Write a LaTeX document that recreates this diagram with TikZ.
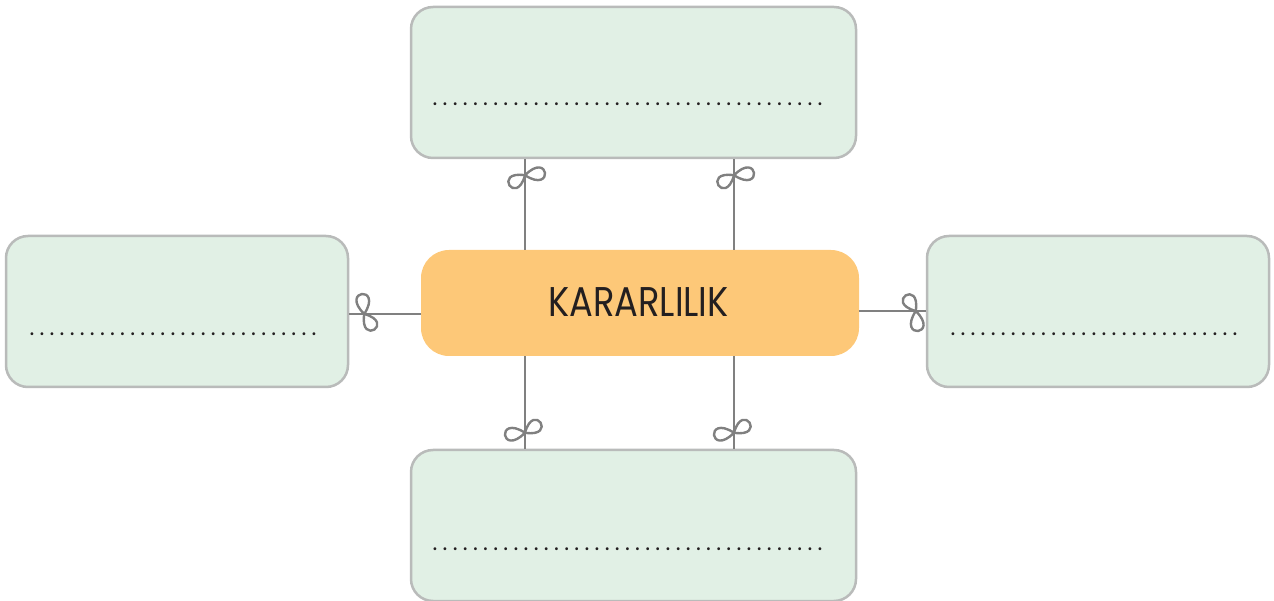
\documentclass[tikz,border=0pt]{standalone}
\usepackage{fontspec}
\setmainfont{Poppins}
\usetikzlibrary{calc}
\definecolor{boxgreen}{HTML}{E1F0E5}
\definecolor{boxborder}{HTML}{B9BBBA}
\definecolor{centerorange}{HTML}{FDC878}
\definecolor{linkgray}{HTML}{808080}
\definecolor{textdark}{HTML}{231F20}
\newcommand\dotrow[2]{\hbox to #2{.\foreach \k in {2,...,#1}{\hfil.}}}
\tikzset{
  answerbox/.style={draw=boxborder, line width=2.5pt, fill=boxgreen, rounded corners=22pt, inner sep=0pt},
  centerbox/.style={fill=centerorange, rounded corners=28pt, inner sep=0pt, minimum width=438pt, minimum height=106pt},
  dotsnode/.style={inner sep=0pt, anchor=base, text=textdark, font=\fontsize{23}{25}\selectfont},
  link/.style={draw=linkgray, line width=2pt},
  bowline/.style={draw=linkgray, line width=2.4pt, line join=round, line cap=round},
  bow/.pic={\draw[bowline, scale=1.1] (0,0) .. controls (4.6,29.7) and (-29,8.1) .. (0,0)
            .. controls (22.5,-22.1) and (-17.1,-26.5) .. (0,0);}
}
\begin{document}
\begin{tikzpicture}[x=1pt,y=1pt]
\useasboundingbox (0,0) rectangle (1274,600);
% boxes
\node[answerbox, minimum width=445pt, minimum height=151pt] (top) at (633.5,517.5) {};
\node[answerbox, minimum width=445pt, minimum height=151pt] (bottom) at (633.5,74.5) {};
\node[answerbox, minimum width=342pt, minimum height=151pt] (left) at (177,288.5) {};
\node[answerbox, minimum width=342pt, minimum height=151pt] (right) at (1098,288.5) {};
\node[centerbox] (c) at (640,297) {};
\node[text=textdark, font=\fontsize{41.5}{44}\selectfont, inner sep=0pt] (title) at (638.5,297.5) {\scalebox{0.85}[1]{KARARLILIK}};
% dot rows
\node[dotsnode] (tdots) at (627.5,494.5) {\dotrow{39}{390pt}};
\node[dotsnode] (bdots) at (627.5,49.5) {\dotrow{39}{390pt}};
\node[dotsnode] (ldots) at (173,264.5) {\dotrow{29}{287pt}};
\node[dotsnode] (rdots) at (1094,264.5) {\dotrow{29}{287pt}};
% connector guides
\coordinate (xa) at (525,0);
\coordinate (xb) at (734,0);
\coordinate (yl) at (0,286);
\coordinate (yr) at (0,289);
% connectors
\draw[link] (xa |- c.north) -- (xa |- top.south);
\draw[link] (xb |- c.north) -- (xb |- top.south);
\draw[link] (xa |- c.south) -- (xa |- bottom.north);
\draw[link] (xb |- c.south) -- (xb |- bottom.north);
\draw[link] (c.west |- yl) -- (left.east |- yl);
\draw[link] (c.east |- yr) -- (right.west |- yr);
% bows
\pic[rotate=90] at ($(xa |- top.south)+(0,-16)$) {bow};
\pic[rotate=90] at ($(xb |- top.south)+(0,-16)$) {bow};
\pic[rotate=-90] at ($(xa |- bottom.north)+(0,16)$) {bow};
\pic[rotate=-90] at ($(xb |- bottom.north)+(0,16)$) {bow};
\pic[rotate=180] at ($(left.east |- yl)+(15,0)$) {bow};
\pic at ($(right.west |- yr)+(-10,0)$) {bow};
\end{tikzpicture}
\end{document}
